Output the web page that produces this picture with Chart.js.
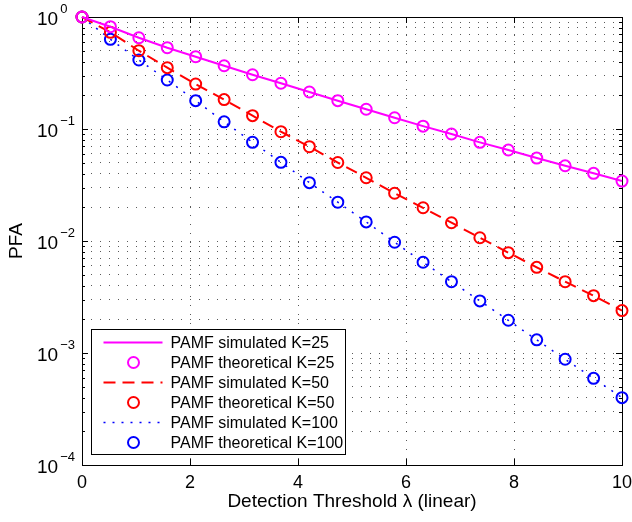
<!DOCTYPE html>
<html>
<head>
<meta charset="utf-8">
<script src="https://cdn.jsdelivr.net/npm/chart.js@4.4.1/dist/chart.umd.min.js"></script>
<style>
  body { margin: 0; background: #fff; }
  #wrap { width: 632px; height: 522px; }
</style>
</head>
<body>
<div id="wrap"><canvas id="pfaChart"></canvas></div>
<script>
// detection threshold (linear), 20 points from 0 to 10
const thresholds = [0, 0.526, 1.053, 1.579, 2.105, 2.632, 3.158, 3.684, 4.211, 4.737,
                    5.263, 5.789, 6.316, 6.842, 7.368, 7.895, 8.421, 8.947, 9.474, 10];

// PFA
const pfaK25 = [1.0, 0.819, 0.653, 0.532, 0.442, 0.367, 0.305, 0.256, 0.214, 0.179,
                0.150, 0.126, 0.106, 0.0902, 0.0760, 0.0649, 0.0550, 0.0470, 0.0402, 0.0343];
const pfaK50 = [1.0, 0.730, 0.500, 0.353, 0.252, 0.183, 0.1315, 0.0946, 0.0695, 0.0502,
                0.0367, 0.0267, 0.0198, 0.01456, 0.01069, 0.00787, 0.00582, 0.00433, 0.00325, 0.00239];
const pfaK100 = [1.0, 0.632, 0.413, 0.274, 0.179, 0.116, 0.0761, 0.0504, 0.0332, 0.0222,
                 0.0148, 0.00975, 0.00646, 0.00433, 0.00292, 0.00196, 0.00131, 0.000879, 0.000594, 0.000399];

const legendLabels = ['PAMF simulated K=25', 'PAMF theoretical K=25',
                      'PAMF simulated K=50', 'PAMF theoretical K=50',
                      'PAMF simulated K=100', 'PAMF theoretical K=100'];

const xTicks = [0, 2, 4, 6, 8, 10];
const yDecades = [1e-4, 1e-3, 1e-2, 1e-1, 1];
const yExponents = ['\u22124', '\u22123', '\u22122', '\u22121', '0'];
const yMultipliers = [1, 2, 3, 4, 5, 6, 7, 8, 9];

const FONT = '"Liberation Sans", Arial, sans-serif';
const GRID = 'rgba(0,0,0,0.65)';

function pts(arr) {
    return thresholds.map((x, i) => ({ x: x, y: arr[i] }));
}

function simLine(label, arr, color, dash, width) {
    return {
        label: label, data: pts(arr), showLine: true,
        borderColor: color, borderWidth: width, borderDash: dash,
        pointRadius: 0, fill: false, tension: 0, clip: 10
    };
}

function theoMarks(label, arr, color) {
    return {
        label: label, data: pts(arr), showLine: false,
        pointStyle: 'circle', pointRadius: 5.5, pointBorderWidth: 2,
        pointBorderColor: color, pointBackgroundColor: 'rgba(0,0,0,0)',
        borderColor: color, clip: 10
    };
}

// frame + inward tick marks, MATLAB style
const axesBox = {
    id: 'axesBox',
    beforeDatasetsDraw(chart) {
        const { ctx, chartArea: a, scales } = chart;
        ctx.save();
        ctx.strokeStyle = '#000';
        ctx.lineWidth = 1;
        ctx.beginPath();
        xTicks.forEach(v => {
            const px = Math.round(scales.x.getPixelForValue(v)) + 0.5;
            ctx.moveTo(px, a.bottom); ctx.lineTo(px, a.bottom - 6);
            ctx.moveTo(px, a.top); ctx.lineTo(px, a.top + 6);
        });
        scales.y.ticks.forEach(t => {
            const py = Math.round(scales.y.getPixelForValue(t.value)) + 0.5;
            const len = yDecades.includes(t.value) ? 6 : 3;
            ctx.moveTo(a.left, py); ctx.lineTo(a.left + len, py);
            ctx.moveTo(a.right, py); ctx.lineTo(a.right - len, py);
        });
        ctx.stroke();
        ctx.strokeRect(Math.round(a.left) + 0.5, Math.round(a.top) + 0.5,
                       Math.round(a.right - a.left), Math.round(a.bottom - a.top));

        // y decade labels with superscript exponent
        ctx.fillStyle = '#000';
        ctx.textAlign = 'left';
        ctx.textBaseline = 'alphabetic';
        yDecades.forEach((v, i) => {
            const py = scales.y.getPixelForValue(v);
            ctx.font = '19px ' + FONT;
            ctx.fillText('10', 37, py + 8);
            const w = ctx.measureText('10').width;
            ctx.font = '13px ' + FONT;
            ctx.fillText(yExponents[i], 37 + w + 2, py - 4);
        });
        ctx.restore();
    }
};

const legendBox = {
    id: 'legendBox',
    afterDatasetsDraw(chart) {
        const { ctx, chartArea: a } = chart;
        const x0 = Math.round(a.left) + 9.5;
        const y0 = Math.round(a.bottom) - 135.5;
        ctx.save();
        ctx.fillStyle = '#fff';
        ctx.fillRect(x0, y0, 254, 125);
        ctx.strokeStyle = '#000';
        ctx.lineWidth = 1;
        ctx.strokeRect(x0, y0, 254, 125);
        chart.data.datasets.forEach((ds, i) => {
            const cy = y0 + 13 + i * 20;
            if (ds.showLine) {
                ctx.strokeStyle = ds.borderColor;
                ctx.lineWidth = ds.borderWidth;
                ctx.setLineDash(ds.borderDash || []);
                ctx.beginPath();
                ctx.moveTo(x0 + 12, cy); ctx.lineTo(x0 + 71, cy);
                ctx.stroke();
                ctx.setLineDash([]);
            } else {
                ctx.strokeStyle = ds.pointBorderColor;
                ctx.lineWidth = ds.pointBorderWidth;
                ctx.beginPath();
                ctx.arc(x0 + 42, cy, ds.pointRadius, 0, Math.PI * 2);
                ctx.stroke();
            }
            ctx.fillStyle = '#000';
            ctx.font = '16px ' + FONT;
            ctx.textBaseline = 'middle';
            ctx.fillText(ds.label, x0 + 79, cy + 1);
        });
        ctx.restore();
    }
};

const ctx = document.getElementById('pfaChart').getContext('2d');
new Chart(ctx, {
    type: 'scatter',
    data: {
        datasets: [
            simLine(legendLabels[0], pfaK25, '#ff00ff', [], 2),
            theoMarks(legendLabels[1], pfaK25, '#ff00ff'),
            simLine(legendLabels[2], pfaK50, '#ff0000', [12, 7], 2),
            theoMarks(legendLabels[3], pfaK50, '#ff0000'),
            simLine(legendLabels[4], pfaK100, '#0000ff', [2, 7], 1.5),
            theoMarks(legendLabels[5], pfaK100, '#0000ff')
        ]
    },
    options: {
        responsive: true,
        maintainAspectRatio: false,
        animation: false,
        events: [],
        layout: { padding: { top: 17, right: 10, left: 0, bottom: 0 } },
        plugins: { legend: { display: false }, tooltip: { enabled: false } },
        scales: {
            x: {
                type: 'linear', min: 0, max: 10,
                afterBuildTicks: (axis) => { axis.ticks = xTicks.map(v => ({ value: v })); },
                afterFit: (scale) => {
                    scale.height = 57;
                    scale.paddingLeft = 0;
                    scale.paddingRight = 0;
                },
                grid: { color: GRID, lineWidth: 1, drawTicks: false },
                border: { display: false, dash: [1, 8] },
                ticks: { color: '#000', font: { size: 18, family: FONT }, padding: 7, maxRotation: 0 },
                title: { display: true, text: 'Detection Threshold \u03bb (linear)', color: '#000',
                         font: { size: 19, family: FONT }, padding: { top: 0, bottom: 9 } }
            },
            y: {
                type: 'logarithmic', min: 1e-4, max: 1,
                afterBuildTicks: (axis) => {
                    const t = [];
                    yDecades.forEach(d => yMultipliers.forEach(m => {
                        const v = d * m;
                        if (v <= 1) t.push({ value: v });
                    }));
                    axis.ticks = t;
                },
                afterFit: (scale) => { scale.width = 82; },
                grid: { color: GRID, lineWidth: 1, drawTicks: false },
                border: { display: false, dash: [1, 8] },
                ticks: { display: false },
                title: { display: true, text: 'PFA', color: '#000',
                         font: { size: 19, family: FONT }, padding: { top: 5, bottom: 0 } }
            }
        }
    },
    plugins: [axesBox, legendBox]
});
</script>
</body>
</html>
